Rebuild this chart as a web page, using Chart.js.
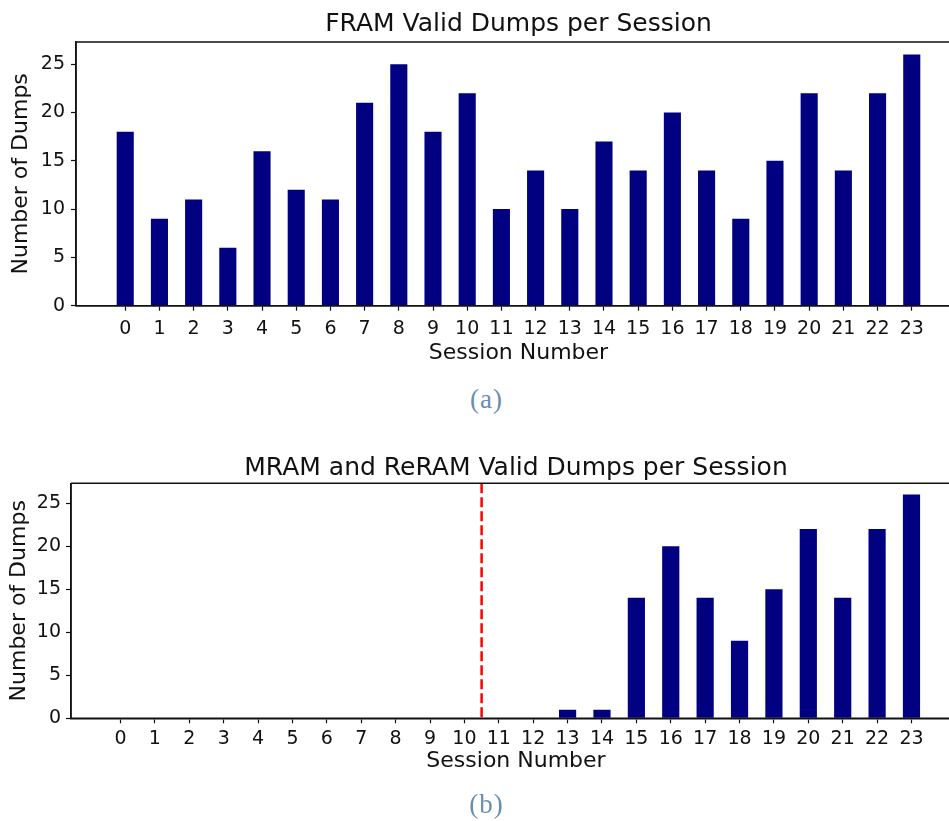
<!DOCTYPE html>
<html><head><meta charset="utf-8">
<script src="https://cdn.jsdelivr.net/npm/chart.js@4.4.0/dist/chart.umd.min.js"></script>
<style>
html,body{margin:0;padding:0;background:#fff;overflow:hidden;width:949px;height:821px;}
.box{position:absolute;left:0;}
.cap{position:absolute;left:0;width:973px;text-align:center;font-family:"Liberation Serif",serif;font-size:27px;line-height:27px;color:#688db2;letter-spacing:1px;}
</style></head><body>
<div class="box" style="top:0"><canvas id="c1" width="961" height="375"></canvas></div>
<div class="cap" style="top:386px">(a)</div>
<div class="box" style="top:440px"><canvas id="c2" width="961" height="350"></canvas></div>
<div class="cap" style="top:791px">(b)</div>
<script>
const sessions = [0,1,2,3,4,5,6,7,8,9,10,11,12,13,14,15,16,17,18,19,20,21,22,23];
const framDumps = [18,9,11,6,16,12,11,21,25,18,22,10,14,10,17,14,20,14,9,15,22,14,22,26];
const mramReramDumps = [0,0,0,0,0,0,0,0,0,0,0,0,0,1,1,14,20,14,9,15,22,14,22,26];
const yTicks = [0,5,10,15,20,25];
const yMax = 27.3;
const xMin = -1.44, xMax = 24.44;
const splitSession = 10.5;
const barColor = '#000080';
const splitColor = '#ff0000';

const spinePlugin = {
  id: 'spines',
  afterDatasetsDraw(chart) {
    const {ctx, chartArea: a} = chart;
    ctx.save();
    ctx.strokeStyle = '#111';
    ctx.lineWidth = 1.5;
    ctx.beginPath();
    ctx.moveTo(a.left, a.top); ctx.lineTo(a.right, a.top);
    ctx.moveTo(a.right, a.top); ctx.lineTo(a.right, a.bottom);
    ctx.moveTo(a.left, a.top); ctx.lineTo(a.left, a.bottom);
    ctx.moveTo(a.left, a.bottom); ctx.lineTo(a.right, a.bottom);
    ctx.stroke();
    ctx.restore();
  }
};

function makeChart(id, titleText, values, L) {
  const datasets = [{
    type: 'bar',
    data: sessions.map((s, i) => ({x: s, y: values[i]})),
    backgroundColor: barColor,
    borderWidth: 0,
    barPercentage: 0.5,
    categoryPercentage: 1.0
  }];
  if (L.split) {
    datasets.push({
      type: 'line',
      data: [{x: splitSession, y: yMax}, {x: splitSession, y: 0}],
      borderColor: splitColor,
      borderWidth: 2.5,
      borderDash: [10, 4],
      pointRadius: 0,
      fill: false
    });
  }
  return new Chart(document.getElementById(id), {
    data: {datasets},
    plugins: [spinePlugin],
    options: {
      responsive: false,
      animation: false,
      layout: {padding: 0},
      plugins: {
        legend: {display: false},
        tooltip: {enabled: false},
        title: {
          display: true, text: titleText, fullSize: false,
          color: '#111',
          font: {family: 'DejaVu Sans', size: 25, weight: 'normal', lineHeight: 1.2},
          padding: {top: L.titleTop, bottom: L.titleBottom}
        }
      },
      scales: {
        x: {
          type: 'linear', min: xMin, max: xMax, offset: false,
          afterBuildTicks: s => { s.ticks = sessions.map(v => ({value: v})); },
          afterFit: s => { s.height = L.xHeight; },
          grid: {display: true, offset: false, drawOnChartArea: false, drawTicks: true, tickLength: 5, tickColor: '#111', tickWidth: 1.2},
          border: {display: true, color: '#111', width: 1.5},
          ticks: {color: '#111', font: {family: 'DejaVu Sans', size: 19}, padding: L.xTickPad, maxRotation: 0, autoSkip: false,
                  callback: v => String(v)},
          title: {display: true, text: 'Session Number', color: '#111',
                  font: {family: 'DejaVu Sans', size: 22, lineHeight: 1.2},
                  padding: {top: 0, bottom: L.xTitleBottom}}
        },
        y: {
          type: 'linear', min: 0, max: yMax,
          afterBuildTicks: s => { s.ticks = yTicks.map(v => ({value: v})); },
          afterFit: s => { s.width = L.yWidth; },
          grid: {display: true, drawOnChartArea: false, drawTicks: true, tickLength: 5, tickColor: '#111', tickWidth: 1.2},
          border: {display: true, color: '#111', width: 1.5},
          ticks: {color: '#111', font: {family: 'DejaVu Sans', size: 19}, padding: L.yTickPad,
                  callback: v => String(v)},
          title: {display: true, text: 'Number of Dumps', color: '#111',
                  font: {family: 'DejaVu Sans', size: 22, lineHeight: 1.2},
                  padding: {top: L.yTitleTop, bottom: 0}}
        }
      }
    }
  });
}

makeChart('c1', 'FRAM Valid Dumps per Session', framDumps,
  {titleTop: 9.6, titleBottom: 2.4, xHeight: 69.3, xTickPad: 7.3, xTitleBottom: 8.3, yWidth: 76, yTickPad: 6, yTitleTop: 8.5, split: false});
makeChart('c2', 'MRAM and ReRAM Valid Dumps per Session', mramReramDumps,
  {titleTop: 13.3, titleBottom: 0, xHeight: 71.7, xTickPad: 4.7, xTitleBottom: 15.8, yWidth: 71, yTickPad: 5, yTitleTop: 5.8, split: true});
</script>
</body></html>
